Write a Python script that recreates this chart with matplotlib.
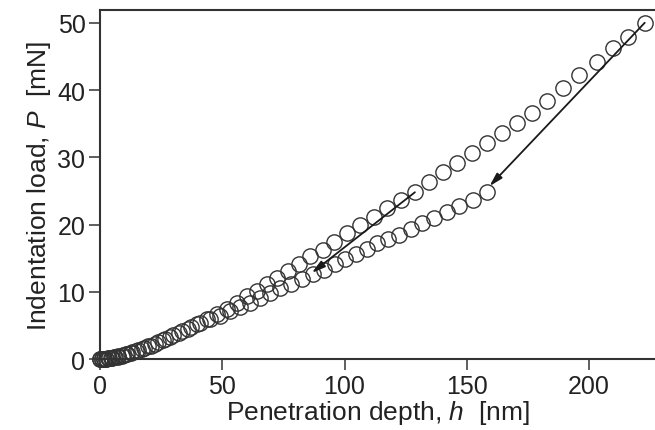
import matplotlib
matplotlib.use("Agg")
import matplotlib.pyplot as plt

plt.rcParams['font.family'] = ['Liberation Sans', 'DejaVu Sans']
plt.rcParams['mathtext.fontset'] = 'custom'
plt.rcParams['mathtext.it'] = 'Liberation Sans:italic'
plt.rcParams['mathtext.rm'] = 'Liberation Sans'

# Loading curve to 50 mN
h_load50 = [0, 0.7, 1.5, 2.4, 3.4, 4.5, 5.8, 7.2, 8.8, 10.6, 12.6, 14.8, 17.2, 19.8,
            22.6, 25.6, 28.8, 32.2, 35.8, 39.6, 43.6, 47.7, 51.8, 55.9, 60.0, 64.1,
            68.2, 72.5, 77.0, 81.5, 85.9, 91.1, 95.7, 100.9, 106.3, 112.1, 117.5,
            123.0, 128.8, 134.7, 140.4, 146.1, 152.0, 158.2, 164.3, 170.4, 176.6,
            183.0, 189.5, 196.0, 203.1, 209.7, 216.1, 222.8]
P_load50 = [0, 0, 0.02, 0.05, 0.1, 0.15, 0.25, 0.35, 0.5, 0.7, 0.9, 1.2, 1.5, 1.9,
            2.3, 2.8, 3.3, 3.9, 4.5, 5.2, 5.9, 6.7, 7.4, 8.4, 9.3, 10.1,
            11.1, 12.1, 13.1, 14.1, 15.3, 16.2, 17.4, 18.7, 19.9, 21.1, 22.5,
            23.7, 24.8, 26.3, 27.8, 29.1, 30.6, 32.1, 33.6, 35.1, 36.6,
            38.3, 40.3, 42.2, 44.2, 46.2, 47.9, 50.0]

# Loading curve to 25 mN
h_load25 = [0, 0.8, 1.6, 2.5, 3.5, 4.7, 6.0, 7.5, 9.2, 11.1, 13.2, 15.5, 18.0, 20.7,
            23.6, 26.7, 30.0, 33.5, 37.2, 41.0, 45.0, 49.1, 53.2, 57.3, 61.3, 65.4,
            69.5, 73.6, 78.0, 82.5, 87.2, 91.6, 96.1, 100.2, 104.7, 109.1, 113.4,
            117.9, 122.4, 127.1, 131.6, 136.6, 141.8, 147.0, 152.4, 158.2]
P_load25 = [0, 0, 0.02, 0.05, 0.1, 0.18, 0.28, 0.4, 0.55, 0.75, 1.0, 1.3, 1.6, 2.0,
            2.5, 3.0, 3.5, 4.1, 4.7, 5.3, 5.9, 6.4, 7.2, 7.8, 8.4, 9.1,
            9.8, 10.5, 11.1, 11.9, 12.6, 13.3, 14.1, 14.8, 15.6, 16.4, 17.2,
            17.8, 18.5, 19.4, 20.2, 21.0, 21.8, 22.8, 23.7, 24.9]

# Unloading arrows (start -> end)
arrow_h_start = [222.8, 128.8]
arrow_P_start = [50.0, 24.8]
arrow_h_end = [159.3, 86.6]
arrow_P_end = [25.7, 12.8]

x_ticks = [0, 50, 100, 150, 200]
y_ticks = [0, 10, 20, 30, 40, 50]

fig = plt.figure(figsize=(6.55, 4.31), dpi=100)
ax = fig.add_axes([0.1527, 0.1647, 0.8473, 0.8098])

edge = '#333333'
for h, P in [(h_load50, P_load50), (h_load25, P_load25)]:
    ax.plot(h, P, linestyle='none', marker='o', markersize=11,
            markerfacecolor='none', markeredgecolor=edge, markeredgewidth=1.0,
            clip_on=False, zorder=3)

for hs, Ps, he, Pe in zip(arrow_h_start, arrow_P_start, arrow_h_end, arrow_P_end):
    ax.annotate('', xy=(he, Pe), xytext=(hs, Ps),
                arrowprops=dict(arrowstyle='-|>,head_length=0.8,head_width=0.22',
                                color='#1a1a1a', lw=1.3, shrinkA=0, shrinkB=0),
                zorder=4)

ax.set_xlim(0, 227)
ax.set_ylim(0, 51.9)
ax.set_xticks(x_ticks)
ax.set_yticks(y_ticks)
ax.tick_params(direction='out', length=8, width=1.1, color=edge,
               labelsize=18, labelcolor='#222222', pad=2.5)
for s in ['left', 'bottom', 'top']:
    ax.spines[s].set_linewidth(1.5)
    ax.spines[s].set_color(edge)
ax.spines['right'].set_visible(False)

ax.set_xlabel(r'Penetration depth, $\mathit{h}$  [nm]', fontsize=19,
              color='#222222', labelpad=0)
ax.set_ylabel(r'Indentation load, $\mathit{P}$  [mN]', fontsize=19,
              color='#222222', labelpad=3)

fig.savefig('out.png', dpi=100)
